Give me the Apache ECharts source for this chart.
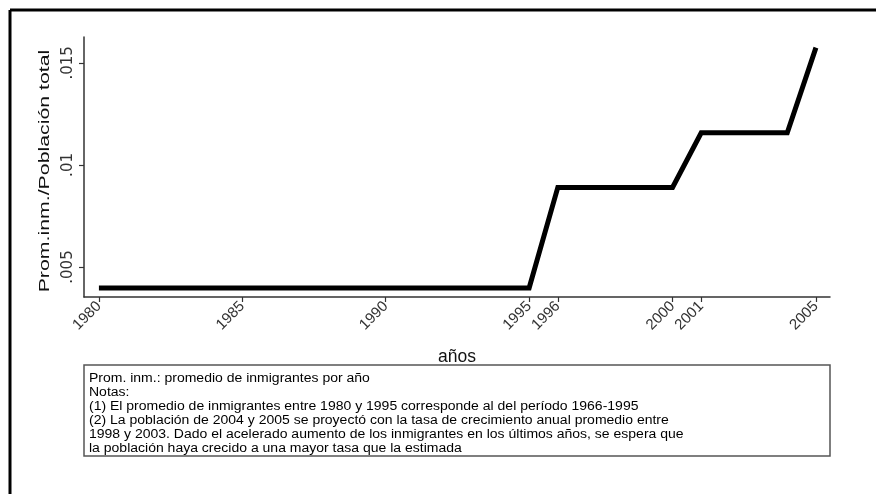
<!DOCTYPE html>
<html>
<head>
<meta charset="utf-8">
<script src="https://cdn.jsdelivr.net/npm/echarts@6/dist/echarts.min.js"></script>
<style>html,body{margin:0;padding:0;background:#fff}#c{width:876px;height:494px}</style>
</head>
<body>
<div id="c"></div>
<script>
const years = [1980,1981,1982,1983,1984,1985,1986,1987,1988,1989,1990,1991,1992,1993,1994,1995,1996,1997,1998,1999,2000,2001,2002,2003,2004,2005];
const values = [0.00397,0.00397,0.00397,0.00397,0.00397,0.00397,0.00397,0.00397,0.00397,0.00397,0.00397,0.00397,0.00397,0.00397,0.00397,0.00397,0.0089,0.0089,0.0089,0.0089,0.0089,0.01158,0.01158,0.01158,0.01158,0.01575];
const xTicks = [1980,1985,1990,1995,1996,2000,2001,2005];
const yTicks = [0.005,0.01,0.015];
const yTickLabels = ['.005','.01','.015'];
const xTitle = 'años';
const yTitle = 'Prom.inm./Población total';
const notes = [
  'Prom. inm.: promedio de inmigrantes por año',
  'Notas:',
  '(1) El promedio de inmigrantes entre 1980 y 1995 corresponde al del período 1966-1995',
  '(2) La población de 2004 y 2005 se proyectó con la tasa de crecimiento anual promedio entre',
  '1998 y 2003. Dado el acelerado aumento de los inmigrantes en los últimos años, se espera que',
  'la población haya crecido a una mayor tasa que la estimada'
];

const chart = echarts.init(document.getElementById('c'), null, {renderer:'canvas'});
const font = 'Liberation Sans, Arial, sans-serif';
chart.setOption({
  animation: false,
  backgroundColor: '#fff',
  grid: {left: 84, top: 37, right: 46, bottom: 197, containLabel: false},
  xAxis: {
    type: 'value', min: 1979.48, max: 2005.49,
    name: xTitle, nameLocation: 'middle', nameGap: 51,
    nameTextStyle: {fontFamily: font, fontSize: 17.5, color: '#111'},
    axisLine: {show: true, onZero: false, lineStyle: {color: '#333', width: 1.5}},
    axisTick: {show: true, length: 5, customValues: xTicks, lineStyle: {color: '#333', width: 1.2}},
    axisLabel: {rotate: 45, margin: 7, customValues: xTicks, fontFamily: font, fontSize: 15, color: '#333', formatter: v => String(v)},
    splitLine: {show: false}
  },
  yAxis: {
    type: 'value', min: 0.00353, max: 0.01627,
    axisLine: {show: true, onZero: false, lineStyle: {color: '#333', width: 1.5}},
    axisTick: {show: true, length: 5, customValues: yTicks, lineStyle: {color: '#333', width: 1.2}},
    axisLabel: {rotate: 90, margin: 8, customValues: yTicks, fontFamily: 'DejaVu Sans, sans-serif', fontSize: 15, color: '#333',
      formatter: v => { const i = yTicks.findIndex(t => Math.abs(t - v) < 1e-9); return i >= 0 ? yTickLabels[i] : ''; }},
    splitLine: {show: false}
  },
  series: [{
    type: 'line', data: years.map((y, i) => [y, values[i]]),
    showSymbol: false, symbol: 'none',
    lineStyle: {color: '#000', width: 5, join: 'miter'}
  }],
  graphic: [
    {type: 'line', shape: {x1: 10, y1: 10, x2: 876, y2: 10}, style: {stroke: '#000', lineWidth: 3}},
    {type: 'line', shape: {x1: 10, y1: 10, x2: 10, y2: 494}, style: {stroke: '#000', lineWidth: 3}},
    {type: 'rect', shape: {x: 84, y: 365, width: 746, height: 91}, style: {fill: '#fff', stroke: '#555', lineWidth: 1.5}},
    {type: 'text', x: 89, y: 371.5, scaleX: 1.12, style: {text: notes.join('\n'), font: '12.5px ' + font, fill: '#000', lineHeight: 14}},
    {type: 'text', x: 45, y: 171, rotation: Math.PI / 2, scaleX: 1.42,
      style: {text: yTitle, font: '15px ' + font, fill: '#111', align: 'center', verticalAlign: 'middle'}}
  ]
});
</script>
</body>
</html>
